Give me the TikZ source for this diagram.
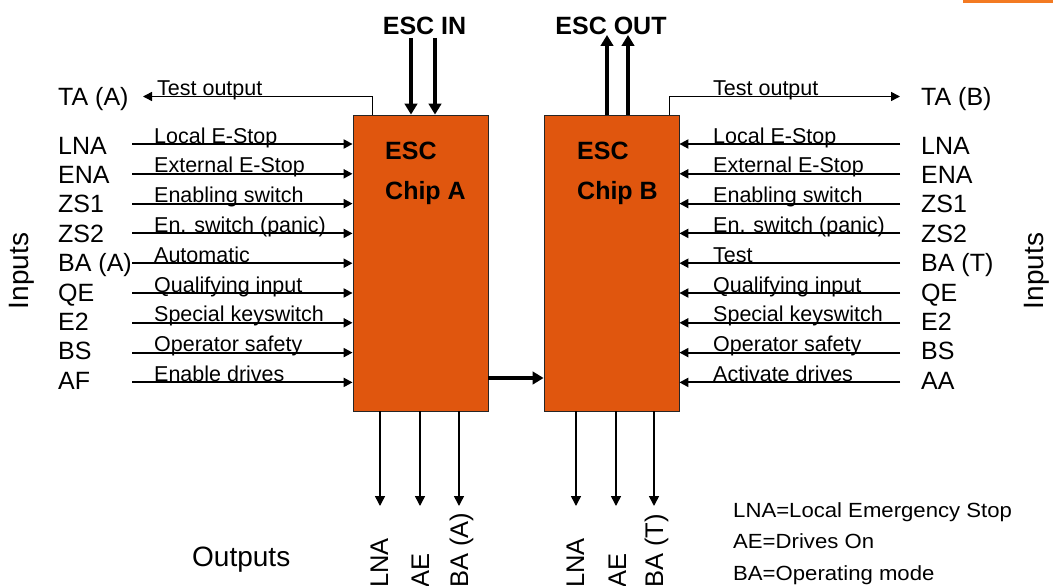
\documentclass[tikz,border=0pt]{standalone}
\usepackage{fontspec}
\setmainfont{Liberation Sans}
\newfontfamily\legendfont[FakeStretch=1.08]{Liberation Sans}
\usetikzlibrary{arrows.meta}
\definecolor{chip}{RGB}{224,86,14}
\definecolor{barorange}{RGB}{243,122,34}
\begin{document}
\begin{tikzpicture}[x=1pt,y=-1pt,
  codelbl/.style={anchor=base west, inner sep=0pt, font=\fontsize{25}{30}\selectfont},
  siglbl/.style={anchor=base west, inner sep=0pt, font=\fontsize{21.5}{26}\selectfont},
  boldlbl/.style={anchor=base, inner sep=0pt, font=\bfseries\fontsize{25}{30}\selectfont},
  chiptxt/.style={anchor=base west, inner sep=0pt, font=\bfseries\fontsize{25}{30}\selectfont},
  biglbl/.style={inner sep=0pt, font=\fontsize{28}{32}\selectfont},
  outlbl/.style={anchor=base west, inner sep=0pt, rotate=90, font=\fontsize{25.5}{30}\selectfont},
  legend/.style={anchor=base west, inner sep=0pt, font=\legendfont\fontsize{20.5}{24}\selectfont},
  chipbox/.style={rectangle, draw=black!85, line width=0.8pt, fill=chip, inner sep=0pt,
    minimum width=135pt, minimum height=296pt},
  inarrow/.style={line width=2pt, -{Triangle[length=9pt,width=9pt]}},
  outarrow/.style={line width=1.5pt, -{Triangle[length=10pt,width=10pt]}},
  testarrow/.style={line width=1.5pt, -{Triangle[length=9pt,width=9pt]}},
  thickarrow/.style={line width=4.5pt, -{Triangle[length=11pt,width=12.5pt]}}
]
\useasboundingbox (0,0) rectangle (1053,586);
\fill[barorange] (963,0) rectangle (1053,3.5);

% chips
\node[chipbox] (chipA) at (420.5,263) {};
\node[chipbox] (chipB) at (611.5,263) {};
\node[chiptxt] (escA) at (385,159) {ESC};
\node[chiptxt] (chipAt) at (385,199) {Chip A};
\node[chiptxt] (escB) at (577,159) {ESC};
\node[chiptxt] (chipBt) at (577,199) {Chip B};

% ESC IN / OUT
\node[boldlbl] (escin) at (424.5,35) {ESC IN};
\node[boldlbl] (escout) at (611,35) {ESC OUT};
\coordinate (ein1) at (411,38);
\coordinate (ein2) at (435,38);
\draw[thickarrow] (ein1) -- (ein1 |- chipA.north);
\draw[thickarrow] (ein2) -- (ein2 |- chipA.north);
\coordinate (eout1) at (607,35);
\coordinate (eout2) at (628,35);
\draw[thickarrow] (eout1 |- chipB.north) -- (eout1);
\draw[thickarrow] (eout2 |- chipB.north) -- (eout2);

% test outputs
\node[codelbl] (taA) at (58,106) {TA (A)};
\node[codelbl] (taB) at (921,106) {TA (B)};
\coordinate (toA) at (143,96.5);
\coordinate (toB) at (900,96.5);
\draw[testarrow] ([xshift=20pt]chipA.north west) |- (toA);
\draw[testarrow] ([xshift=-10pt]chipB.north east) |- (toB);
\node[siglbl] (testA) at (157,95.5) {Test output};
\node[siglbl] (testB) at (713,95.5) {Test output};

% left inputs
\foreach \code/\txt [count=\i from 0] in {LNA/Local E-Stop,ENA/External E-Stop,ZS1/Enabling switch,ZS2/En. switch (panic),BA (A)/Automatic,QE/Qualifying input,E2/Special keyswitch,BS/Operator safety,AF/Enable drives}{
  \pgfmathsetmacro\ya{144+29.8*\i}
  \pgfmathsetmacro\yl{154+29.4*\i}
  \node[codelbl] (lc\i) at (58,\yl) {\code};
  \coordinate (ls\i) at (132,\ya);
  \draw[inarrow] (ls\i) -- (ls\i -| chipA.west);
  \node[siglbl] (lt\i) at (154,\ya-1) {\txt};
}
% right inputs
\foreach \code/\txt [count=\i from 0] in {LNA/Local E-Stop,ENA/External E-Stop,ZS1/Enabling switch,ZS2/En. switch (panic),BA (T)/Test,QE/Qualifying input,E2/Special keyswitch,BS/Operator safety,AA/Activate drives}{
  \pgfmathsetmacro\ya{144+29.8*\i}
  \pgfmathsetmacro\yl{154+29.4*\i}
  \node[codelbl] (rc\i) at (921,\yl) {\code};
  \coordinate (rs\i) at (900,\ya);
  \draw[inarrow] (rs\i) -- (rs\i -| chipB.east);
  \node[siglbl] (rt\i) at (713,\ya-1) {\txt};
}

% chip link
\draw[thickarrow] (chipA.east |- 0,378) -- (chipB.west |- 0,378);

% Inputs labels
\node[biglbl, rotate=90] (inL) at (22,271) {Inputs};
\node[biglbl, rotate=90] (inR) at (1037,271) {Inputs};

% outputs
\foreach \x/\n in {380/oa1,420/oa2,459/oa3,576/ob1,616/ob2,654/ob3}{
  \coordinate (\n) at (\x,506);
}
\foreach \n in {oa1,oa2,oa3}{ \draw[outarrow] (\n |- chipA.south) -- (\n); }
\foreach \n in {ob1,ob2,ob3}{ \draw[outarrow] (\n |- chipB.south) -- (\n); }
\node[outlbl] (olA1) at (388,588) {LNA};
\node[outlbl] (olA2) at (429,588) {AE};
\node[outlbl] (olA3) at (468,588) {BA (A)};
\node[outlbl] (olB1) at (584,588) {LNA};
\node[outlbl] (olB2) at (626,588) {AE};
\node[outlbl] (olB3) at (663,588) {BA (T)};
\node[biglbl, anchor=base west] (outputs) at (192,566) {Outputs};

% legend
\node[legend] (lg1) at (733,517) {LNA=Local Emergency Stop};
\node[legend] (lg2) at (733,548) {AE=Drives On};
\node[legend] (lg3) at (733,580) {BA=Operating mode};
\end{tikzpicture}
\end{document}
